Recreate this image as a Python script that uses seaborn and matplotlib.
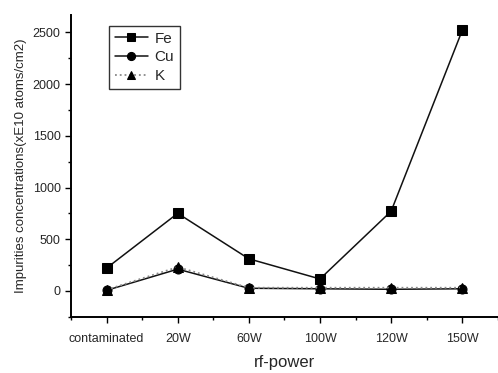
import matplotlib
matplotlib.use("Agg")
import matplotlib.pyplot as plt
import seaborn as sns
import pandas as pd
from matplotlib.ticker import MultipleLocator, FixedLocator

categories = ["contaminated", "20W", "60W", "100W", "120W", "150W"]
fe = [220, 750, 310, 115, 770, 2520]
cu = [5, 210, 25, 20, 15, 20]
k = [10, 230, 30, 30, 30, 30]

sns.set_style("ticks")
plt.rcParams['font.family'] = ['Liberation Sans', 'DejaVu Sans']

x = list(range(len(categories)))
df = pd.DataFrame({
    "x": x * 3,
    "value": fe + cu + k,
    "element": ["Fe"] * 6 + ["Cu"] * 6 + ["K"] * 6,
})

fig = plt.figure(figsize=(4.98, 3.73), dpi=100)
ax = fig.add_axes([0.1426, 0.151, 0.857, 0.809])

styles = {"Fe": dict(color="#111111", marker="s", ls="-", lw=1.1, ms=6.5),
          "Cu": dict(color="#111111", marker="o", ls="-", lw=1.1, ms=6.5),
          "K": dict(color="#888888", marker="^", ls=":", lw=1.3, ms=6.5)}
for name in ["Fe", "Cu", "K"]:
    st = styles[name]
    sub = df[df["element"] == name]
    sns.lineplot(data=sub, x="x", y="value", ax=ax, color=st["color"],
                 marker=st["marker"], linestyle=st["ls"], linewidth=st["lw"],
                 markersize=st["ms"], markeredgecolor="black",
                 markerfacecolor="black", label=name)

ax.set_xlim(-0.5, 5.5)
ax.set_ylim(-250, 2670)
ax.set_xticks(x)
ax.set_xticklabels(categories, fontsize=9)
ax.xaxis.set_minor_locator(FixedLocator([i + 0.5 for i in range(-1, 6)]))
ax.yaxis.set_major_locator(FixedLocator([0, 500, 1000, 1500, 2000, 2500]))
ax.yaxis.set_minor_locator(MultipleLocator(250))
ax.tick_params(axis="both", which="major", length=4, width=1, labelsize=9, color="black")
ax.tick_params(axis="both", which="minor", length=2.5, width=1, color="black")
ax.tick_params(axis="x", pad=8)
for lbl in ax.get_xticklabels() + ax.get_yticklabels():
    lbl.set_fontweight("medium")
for s in ["left", "bottom"]:
    ax.spines[s].set_linewidth(1.4)
    ax.spines[s].set_color("black")
sns.despine(ax=ax)

ax.set_xlabel("rf-power", fontsize=12, labelpad=7)
ax.set_ylabel("Impurities concentrations(xE10 atoms/cm2)", fontsize=9.5)

leg = ax.legend(loc="upper left", bbox_to_anchor=(0.07, 0.99), frameon=True,
                fancybox=False, edgecolor="black", fontsize=11,
                handlelength=2.2, borderpad=0.4, labelspacing=0.3,
                handletextpad=0.4, markerscale=0.9)
leg.get_frame().set_linewidth(1.0)

fig.savefig("out.png", dpi=100)
